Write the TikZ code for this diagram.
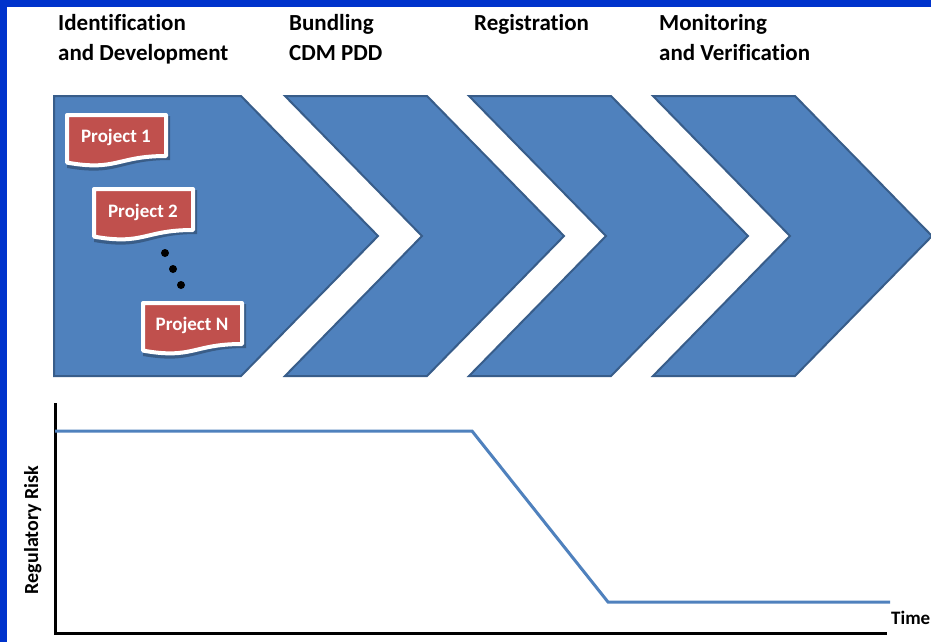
\documentclass[tikz,border=0pt]{standalone}
\usepackage{fontspec}
\setmainfont{Carlito}[Ligatures=NoCommon]
\definecolor{chevfill}{RGB}{79,129,189}
\definecolor{chevline}{RGB}{56,93,138}
\definecolor{projred}{RGB}{192,80,77}
\definecolor{frameblue}{RGB}{0,51,204}
\tikzset{
  chevron/.style={fill=chevfill,draw=chevline,line width=2pt,line join=miter},
  heading/.style={font=\bfseries\fontsize{23}{26}\selectfont,inner sep=0pt,anchor=base west},
  projtext/.style={font=\bfseries\fontsize{19}{22}\selectfont,text=white,inner sep=0pt},
  axisline/.style={black,line width=3pt},
  riskline/.style={chevfill,line width=3pt,line join=miter},
  docshape/.pic={
    \fill[black,opacity=0.28,shift={(2,3)}] (-2,-2) -- (101,-2) -- (101,42) .. controls (50,42) and (50,59) .. (-2,50) -- cycle;
    \draw[white,line width=4pt,fill=projred,line join=round] (0,0) -- (99,0) -- (99,41) .. controls (50,41) and (50,56.5) .. (0,47.6) -- cycle;
  }
}
\begin{document}
\begin{tikzpicture}[x=1pt,y=-1pt]
\useasboundingbox (0,0) rectangle (931,642);
\fill[white] (0,0) rectangle (931,642);
\fill[frameblue] (0,0) rectangle (7,642);
\fill[frameblue] (0,0) rectangle (931,7);

% chevrons
\draw[chevron] (54,96) -- (241,96) -- (378,236) -- (241,376) -- (54,376) -- cycle;
\draw[chevron] (285,96) -- (427,96) -- (564,236) -- (427,376) -- (285,376) -- (422,236) -- cycle;
\draw[chevron] (469,96) -- (611,96) -- (748,236) -- (611,376) -- (469,376) -- (606,236) -- cycle;
\draw[chevron] (653,96) -- (795,96) -- (932,236) -- (795,376) -- (653,376) -- (790,236) -- cycle;

% headings
\node[heading] (h1a) at (58,31) {Identification};
\node[heading] (h1b) at (58,60) {and Development};
\node[heading] (h2a) at (289,31) {Bundling};
\node[heading] (h2b) at (289,60) {CDM PDD};
\node[heading] (h3a) at (474,31) {Registration};
\node[heading] (h4a) at (659,31) {Monitoring};
\node[heading] (h4b) at (659,60) {and Verification};

% projects
\pic at (67,115) {docshape};
\node[projtext] (p1) at (116,137) {Project 1};
\pic at (94,189) {docshape};
\node[projtext] (p2) at (143,212) {Project 2};
\pic at (143,303) {docshape};
\node[projtext] (pn) at (192,325) {Project N};

\fill (165,253) circle[radius=4pt];
\fill (173,269) circle[radius=4pt];
\fill (181,285) circle[radius=4pt];

% graph
\coordinate (ytop) at (55,403);
\coordinate (orig) at (55,633);
\coordinate (xend) at (887,633);
\draw[axisline] (ytop) -- (orig) -- (xend);
\coordinate (r0) at (55,431);
\coordinate (r1) at (472,431);
\coordinate (r2) at (608,602);
\coordinate (r3) at (890,602);
\draw[riskline] (r0) -- (r1) -- (r2) -- (r3);
\node[font=\bfseries\fontsize{19}{22}\selectfont,inner sep=0pt,anchor=base west] (time) at (891,624) {Time};
\node[font=\bfseries\fontsize{20}{24}\selectfont,inner sep=0pt,anchor=base,rotate=90] (risk) at (38,530) {Regulatory Risk};
\end{tikzpicture}
\end{document}
